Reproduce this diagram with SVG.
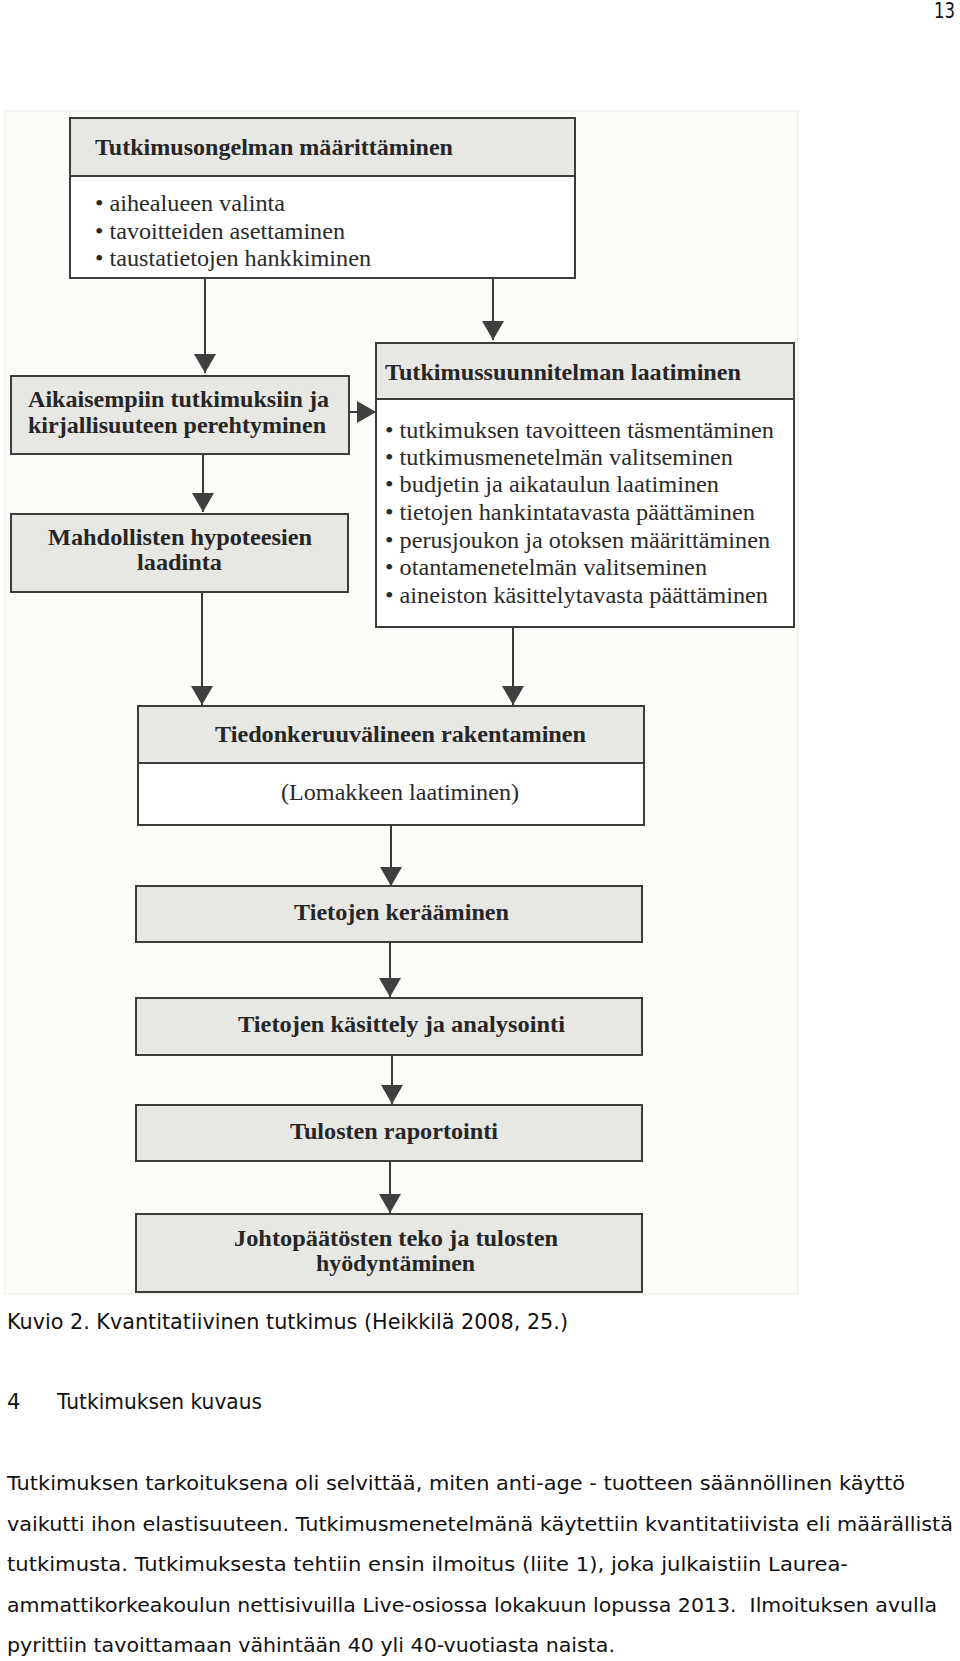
<svg xmlns="http://www.w3.org/2000/svg" width="960" height="1661" viewBox="0 0 960 1661">
<defs>
<style>
.bg{fill:#ffffff}
.scan{fill:#fbfbf8;stroke:#ececea;stroke-width:1}
.box{fill:#ffffff;stroke:#3c3c3c;stroke-width:2}
.hdr{fill:#e7e7e4;stroke:#3c3c3c;stroke-width:2}
.b{font-family:"Liberation Serif","Times New Roman",serif;font-weight:bold;font-size:24px;fill:#262626}
.r{font-family:"Liberation Serif","Times New Roman",serif;font-size:24px;fill:#2a2a2a}
.s{font-family:"DejaVu Sans","Liberation Sans",sans-serif;font-size:21px;fill:#111}
.p{font-family:"DejaVu Sans","Liberation Sans",sans-serif;font-size:19px;fill:#111}
.conn{stroke:#3a3a3a;stroke-width:2;fill:none}
.head{fill:#3f3f3f}
</style>
<marker id="ah" viewBox="0 0 19 22" refX="19" refY="11" markerWidth="19" markerHeight="22" markerUnits="userSpaceOnUse" orient="auto">
<path d="M0,0 L19,11 L0,22 Z" class="head"/>
</marker>
</defs>
<rect class="bg" x="0" y="0" width="960" height="1661"/>
<text class="s" x="934" y="18" textLength="21" lengthAdjust="spacingAndGlyphs">13</text>
<rect class="scan" x="5" y="111" width="793" height="1183"/>

<g id="connectors">
<line class="conn" x1="205" y1="278" x2="205" y2="373" marker-end="url(#ah)"/>
<line class="conn" x1="493" y1="278" x2="493" y2="340" marker-end="url(#ah)"/>
<line class="conn" x1="349" y1="412" x2="376" y2="412" marker-end="url(#ah)"/>
<line class="conn" x1="203" y1="454" x2="203" y2="512" marker-end="url(#ah)"/>
<line class="conn" x1="202" y1="592" x2="202" y2="705" marker-end="url(#ah)"/>
<line class="conn" x1="513" y1="627" x2="513" y2="705" marker-end="url(#ah)"/>
<line class="conn" x1="391" y1="825" x2="391" y2="886" marker-end="url(#ah)"/>
<line class="conn" x1="390" y1="942" x2="390" y2="997" marker-end="url(#ah)"/>
<line class="conn" x1="392" y1="1055" x2="392" y2="1104" marker-end="url(#ah)"/>
<line class="conn" x1="390" y1="1161" x2="390" y2="1213" marker-end="url(#ah)"/>
</g>

<g id="n1">
<rect class="box" x="70" y="118" width="505" height="160"/>
<rect class="hdr" x="70" y="118" width="505" height="58"/>
<text class="b" x="95" y="155" textLength="358" lengthAdjust="spacingAndGlyphs">Tutkimusongelman määrittäminen</text>
<text class="r" x="95" y="211" textLength="190" lengthAdjust="spacingAndGlyphs">• aihealueen valinta</text>
<text class="r" x="95" y="239" textLength="250" lengthAdjust="spacingAndGlyphs">• tavoitteiden asettaminen</text>
<text class="r" x="95" y="266" textLength="276" lengthAdjust="spacingAndGlyphs">• taustatietojen hankkiminen</text>
</g>

<g id="n2">
<rect class="hdr" x="11" y="376" width="338" height="78"/>
<text class="b" x="28" y="407" textLength="301" lengthAdjust="spacingAndGlyphs">Aikaisempiin tutkimuksiin ja</text>
<text class="b" x="28" y="433" textLength="298" lengthAdjust="spacingAndGlyphs">kirjallisuuteen perehtyminen</text>
</g>

<g id="n3">
<rect class="hdr" x="11" y="514" width="337" height="78"/>
<text class="b" x="48" y="545" textLength="264" lengthAdjust="spacingAndGlyphs">Mahdollisten hypoteesien</text>
<text class="b" x="137" y="570" textLength="85" lengthAdjust="spacingAndGlyphs">laadinta</text>
</g>

<g id="n4">
<rect class="box" x="376" y="343" width="418" height="284"/>
<rect class="hdr" x="376" y="343" width="418" height="56"/>
<text class="b" x="385" y="380" textLength="356" lengthAdjust="spacingAndGlyphs">Tutkimussuunnitelman laatiminen</text>
<text class="r" x="385" y="438" textLength="389" lengthAdjust="spacingAndGlyphs">• tutkimuksen tavoitteen täsmentäminen</text>
<text class="r" x="385" y="465" textLength="348" lengthAdjust="spacingAndGlyphs">• tutkimusmenetelmän valitseminen</text>
<text class="r" x="385" y="492" textLength="334" lengthAdjust="spacingAndGlyphs">• budjetin ja aikataulun laatiminen</text>
<text class="r" x="385" y="520" textLength="370" lengthAdjust="spacingAndGlyphs">• tietojen hankintatavasta päättäminen</text>
<text class="r" x="385" y="548" textLength="385" lengthAdjust="spacingAndGlyphs">• perusjoukon ja otoksen määrittäminen</text>
<text class="r" x="385" y="575" textLength="322" lengthAdjust="spacingAndGlyphs">• otantamenetelmän valitseminen</text>
<text class="r" x="385" y="603" textLength="383" lengthAdjust="spacingAndGlyphs">• aineiston käsittelytavasta päättäminen</text>
</g>

<g id="n5">
<rect class="box" x="138" y="706" width="506" height="119"/>
<rect class="hdr" x="138" y="706" width="506" height="57"/>
<text class="b" x="215" y="742" textLength="371" lengthAdjust="spacingAndGlyphs">Tiedonkeruuvälineen rakentaminen</text>
<text class="r" x="281" y="800" textLength="238" lengthAdjust="spacingAndGlyphs">(Lomakkeen laatiminen)</text>
</g>

<g id="n6">
<rect class="hdr" x="136" y="886" width="506" height="56"/>
<text class="b" x="294" y="920" textLength="215" lengthAdjust="spacingAndGlyphs">Tietojen kerääminen</text>
</g>

<g id="n7">
<rect class="hdr" x="136" y="998" width="506" height="57"/>
<text class="b" x="238" y="1032" textLength="327" lengthAdjust="spacingAndGlyphs">Tietojen käsittely ja analysointi</text>
</g>

<g id="n8">
<rect class="hdr" x="136" y="1105" width="506" height="56"/>
<text class="b" x="290" y="1139" textLength="208" lengthAdjust="spacingAndGlyphs">Tulosten raportointi</text>
</g>

<g id="n9">
<rect class="hdr" x="136" y="1214" width="506" height="78"/>
<text class="b" x="234" y="1246" textLength="324" lengthAdjust="spacingAndGlyphs">Johtopäätösten teko ja tulosten</text>
<text class="b" x="316" y="1271" textLength="159" lengthAdjust="spacingAndGlyphs">hyödyntäminen</text>
</g>

<g id="page-text">
<text class="s" x="7" y="1329" textLength="561" lengthAdjust="spacingAndGlyphs">Kuvio 2. Kvantitatiivinen tutkimus (Heikkilä 2008, 25.)</text>
<text class="s" x="7" y="1409">4</text>
<text class="s" x="57" y="1409" textLength="205" lengthAdjust="spacingAndGlyphs">Tutkimuksen kuvaus</text>
<text class="p" x="7" y="1490" textLength="898" lengthAdjust="spacingAndGlyphs">Tutkimuksen tarkoituksena oli selvittää, miten anti-age - tuotteen säännöllinen käyttö</text>
<text class="p" x="7" y="1531" textLength="946" lengthAdjust="spacingAndGlyphs">vaikutti ihon elastisuuteen. Tutkimusmenetelmänä käytettiin kvantitatiivista eli määrällistä</text>
<text class="p" x="7" y="1571" textLength="841" lengthAdjust="spacingAndGlyphs">tutkimusta. Tutkimuksesta tehtiin ensin ilmoitus (liite 1), joka julkaistiin Laurea-</text>
<text class="p" x="7" y="1612" textLength="930" lengthAdjust="spacingAndGlyphs">ammattikorkeakoulun nettisivuilla Live-osiossa lokakuun lopussa 2013. &#160;Ilmoituksen avulla</text>
<text class="p" x="7" y="1652" textLength="608" lengthAdjust="spacingAndGlyphs">pyrittiin tavoittamaan vähintään 40 yli 40-vuotiasta naista.</text>
</g>
</svg>
